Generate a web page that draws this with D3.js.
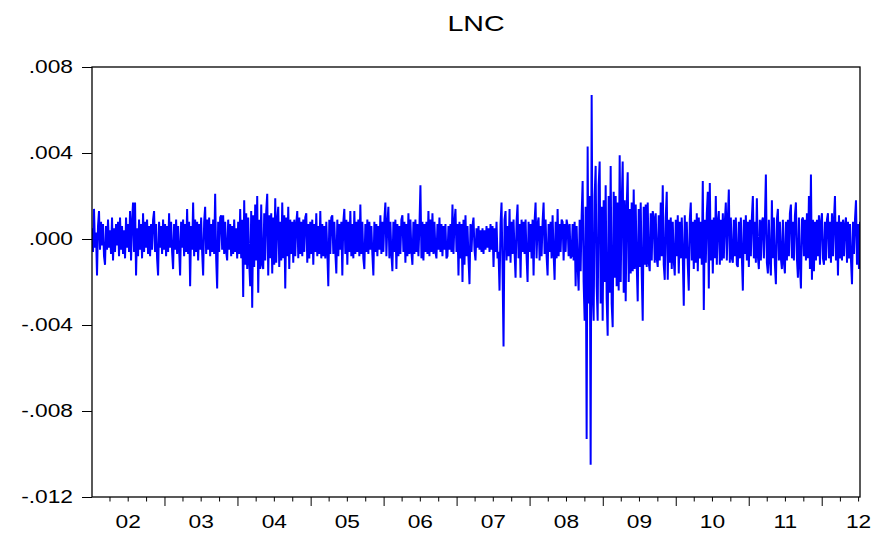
<!DOCTYPE html>
<html>
<head>
<meta charset="utf-8">
<script src="https://cdn.jsdelivr.net/npm/d3@7/dist/d3.min.js"></script>
<style>
  html, body { margin: 0; padding: 0; background: #fff; }
  text { font-family: "Liberation Sans", Arial, sans-serif; fill: #000; }
</style>
</head>
<body>
<svg id="chart" width="880" height="535"></svg>
<script>
// ---- data ----
const title = "LNC";
const startDate = "2002-01-01";
const endDate = "2012-07-08";
const unit = 1e-4; // series stored in units of 0.0001
// LNC series, units of 0.0001
const lncE4 = [
5,-6,14,-4,3,-17,6,13,-5,8,
-3,7,-8,-12,6,-5,9,-4,4,-7,
10,-10,5,-6,7,-3,8,-8,10,-5,
6,-7,4,-9,10,-4,7,-6,13,-10,
8,17,-6,17,-17,5,-8,9,-5,7,
-9,12,-6,8,-4,9,-7,6,-8,7,
-5,9,13,-6,7,-9,-17,8,-4,6,
-7,9,-5,7,-8,6,-6,12,-4,8,
-6,-14,7,-5,9,-7,6,-5,-17,8,
-4,9,-8,7,-6,14,-7,8,-22,6,
-5,17,-8,9,-6,8,-10,7,-5,10,
-6,-17,8,15,-7,9,-5,10,-8,7,
-6,9,-7,21,-9,-23,8,-6,10,11,
-5,11,-7,8,-6,-10,9,-5,7,-8,
6,-7,9,-6,5,-9,8,-7,14,-9,
9,-27,18,-12,12,-14,10,-11,-22,13,
-32,11,-13,16,-10,20,-25,9,-14,16,
-12,-14,12,-10,13,21,-17,11,-9,12,
-16,10,-12,19,-11,9,15,-13,8,-10,
17,-9,11,-23,10,-8,15,-14,9,-7,
8,-11,9,-8,7,13,-9,10,-7,8,
-8,9,-6,10,12,-11,7,-9,8,-7,
9,-12,7,-6,12,-8,6,-7,13,-9,
7,-8,6,-9,8,-6,-22,9,-7,10,
11,-7,8,-6,-16,9,-8,7,-5,8,
-17,8,14,-7,9,-12,8,-6,13,-8,
7,-9,13,-7,8,-6,9,-8,16,-7,
8,-9,-14,7,-6,9,-7,8,-5,6,
-7,-17,8,-6,7,-8,6,-5,11,-7,
8,-6,9,17,-8,7,15,-9,8,-7,
-15,8,-6,9,-14,7,-8,6,-7,9,
11,-6,8,-11,7,-8,12,-7,9,-6,
-12,8,-7,9,-6,7,-8,6,25,-9,
8,-10,7,-6,8,-7,13,-8,9,-6,
12,-7,8,-6,-9,7,-5,10,-6,7,
-8,6,-5,7,-9,-8,6,-5,7,-6,
16,-7,8,14,-6,7,-17,8,-9,7,
-20,9,-12,11,-8,6,-9,-21,7,-6,
6,10,-5,-10,5,-4,6,-5,4,-6,
5,-7,4,-5,6,-4,5,-6,7,-5,
6,-13,5,-6,8,-9,-6,-24,7,17,
-14,-50,9,13,-10,6,-8,14,-11,8,
-7,9,-6,-18,8,16,-9,7,-18,9,
-6,8,-7,9,-8,-20,8,-6,7,-9,
9,-17,8,17,-9,7,10,-10,6,-8,
8,17,-7,9,-8,-17,7,-6,8,-9,
11,-7,-19,8,-9,14,-8,7,-6,9,
8,-10,7,-6,9,6,-8,7,-9,-8,
7,-10,8,-22,6,-12,-24,9,-15,11,
27,-20,-38,15,-93,43,-30,20,-105,67,
-25,-38,20,34,-22,-38,25,36,-30,15,
-38,18,-20,25,-28,-45,20,-25,34,-30,
-41,22,-18,20,-22,17,-24,39,-20,16,
36,-25,18,-29,15,31,-20,14,-16,17,
-15,23,-14,16,-12,-29,14,-13,17,-16,
-38,15,-12,16,-13,17,-11,-15,12,-10,
13,10,-11,12,-9,-13,11,-10,17,-8,
25,-12,-19,10,22,-19,9,-11,10,-14,
8,-10,-17,9,-8,11,-16,8,-9,10,
-8,-31,11,-9,8,-12,-24,9,17,-10,
8,-14,9,-11,12,-15,10,-9,8,-12,
27,-33,9,-11,12,22,-23,26,-10,9,
-16,10,-9,20,-12,8,13,-12,9,-10,
12,-9,8,17,-10,9,23,-11,10,-9,
-11,9,-8,10,-12,-13,8,-9,10,-8,
-24,9,-7,11,-10,8,-13,9,-8,10,
20,-9,8,-11,19,-8,-14,9,-10,8,
10,-9,8,30,-11,-16,9,-10,-17,18,
-9,10,-12,-21,9,14,-10,8,-9,-14,
9,-11,-16,8,-10,9,-8,12,16,-9,
8,-10,11,17,-9,-18,10,-12,-23,9,
10,-8,9,-10,12,-9,20,-14,30,-19,
9,-15,8,-10,9,-8,11,-12,8,12,
-9,-12,8,-10,9,12,-9,8,-11,12,
-8,9,20,-10,8,-17,11,-9,8,-10,
9,-8,7,10,-11,8,-9,7,-10,-21,
8,-7,9,18,-12,7,-14,8
];
const yTicks = [0.008, 0.004, 0.000, -0.004, -0.008, -0.012];
const yearLabels = ["02","03","04","05","06","07","08","09","10","11","12"];
const yearStarts = [2002,2003,2004,2005,2006,2007,2008,2009,2010,2011,2012];

// ---- layout ----
const svg = d3.select("#chart");
const L = 92, R = 860, T = 67, B = 497;
const SX = 1.3; // horizontal text stretch of the original rendering

const t0 = new Date(startDate + "T00:00:00"), t1 = new Date(endDate + "T00:00:00");
const n = lncE4.length;
const data = lncE4.map((v, i) => ({
  date: new Date(+t0 + (t1 - t0) * i / (n - 1)),
  value: v * unit
}));

const x = d3.scaleTime().domain([t0, t1]).range([L, R]);
const y = d3.scaleLinear().domain([-0.012, 0.008]).range([B, T]);

// clip
svg.append("defs").append("clipPath").attr("id", "clip")
  .append("rect").attr("x", L).attr("y", T).attr("width", R - L).attr("height", B - T);

// series
svg.append("path")
  .datum(data)
  .attr("clip-path", "url(#clip)")
  .attr("fill", "none")
  .attr("stroke", "#0000ff")
  .attr("stroke-width", 2)
  .attr("stroke-linejoin", "bevel")
  .attr("d", d3.line().x(d => x(d.date)).y(d => y(d.value)));

// frame
svg.append("rect")
  .attr("x", L).attr("y", T).attr("width", R - L).attr("height", B - T)
  .attr("fill", "none").attr("stroke", "#000").attr("stroke-width", 1.3);

// y axis
const fmt = v => {
  const s = d3.format(".3f")(Math.abs(v)).replace(/^0/, "");
  return (v < 0 ? "-" : "") + s;
};
const gy = svg.append("g").attr("transform", `translate(${L},0)`)
  .call(d3.axisLeft(y).tickValues(yTicks).tickSize(10).tickPadding(9).tickFormat(fmt));
gy.select(".domain").remove();
gy.selectAll(".tick line").attr("stroke", "#000").attr("stroke-width", 1);
gy.selectAll(".tick text")
  .attr("font-size", 17.5)
  .attr("font-family", "Liberation Sans, Arial, sans-serif")
  .attr("fill", "#000")
  .attr("x", -19 / SX)
  .attr("transform", `scale(${SX},1)`);

// x axis: major (years) and minor (quarters) ticks, labels at mid-year
const majorDates = yearStarts.slice(1).map(yr => new Date(yr, 0, 1));
const minorDates = [];
yearStarts.forEach(yr => [3, 6, 9].forEach(m => {
  const d = new Date(yr, m, 1);
  if (d <= t1) minorDates.push(d);
}));
const gx = svg.append("g");
gx.selectAll("line.major").data(majorDates).join("line")
  .attr("x1", d => x(d)).attr("x2", d => x(d))
  .attr("y1", B).attr("y2", B + 9)
  .attr("stroke", "#000").attr("stroke-width", 1);
gx.selectAll("line.minor").data(minorDates).join("line")
  .attr("x1", d => x(d)).attr("x2", d => x(d))
  .attr("y1", B).attr("y2", B + 4.5)
  .attr("stroke", "#000").attr("stroke-width", 1);
gx.selectAll("text").data(yearLabels).join("text")
  .attr("transform", (d, i) => `translate(${x(new Date(yearStarts[i], 6, 1))},528) scale(${SX},1)`)
  .attr("text-anchor", "middle")
  .attr("font-size", 17.5)
  .text(d => d);

// title
svg.append("text")
  .attr("transform", `translate(${(L + R) / 2},31) scale(${SX},1)`)
  .attr("text-anchor", "middle")
  .attr("font-size", 22)
  .text(title);
</script>
</body>
</html>
